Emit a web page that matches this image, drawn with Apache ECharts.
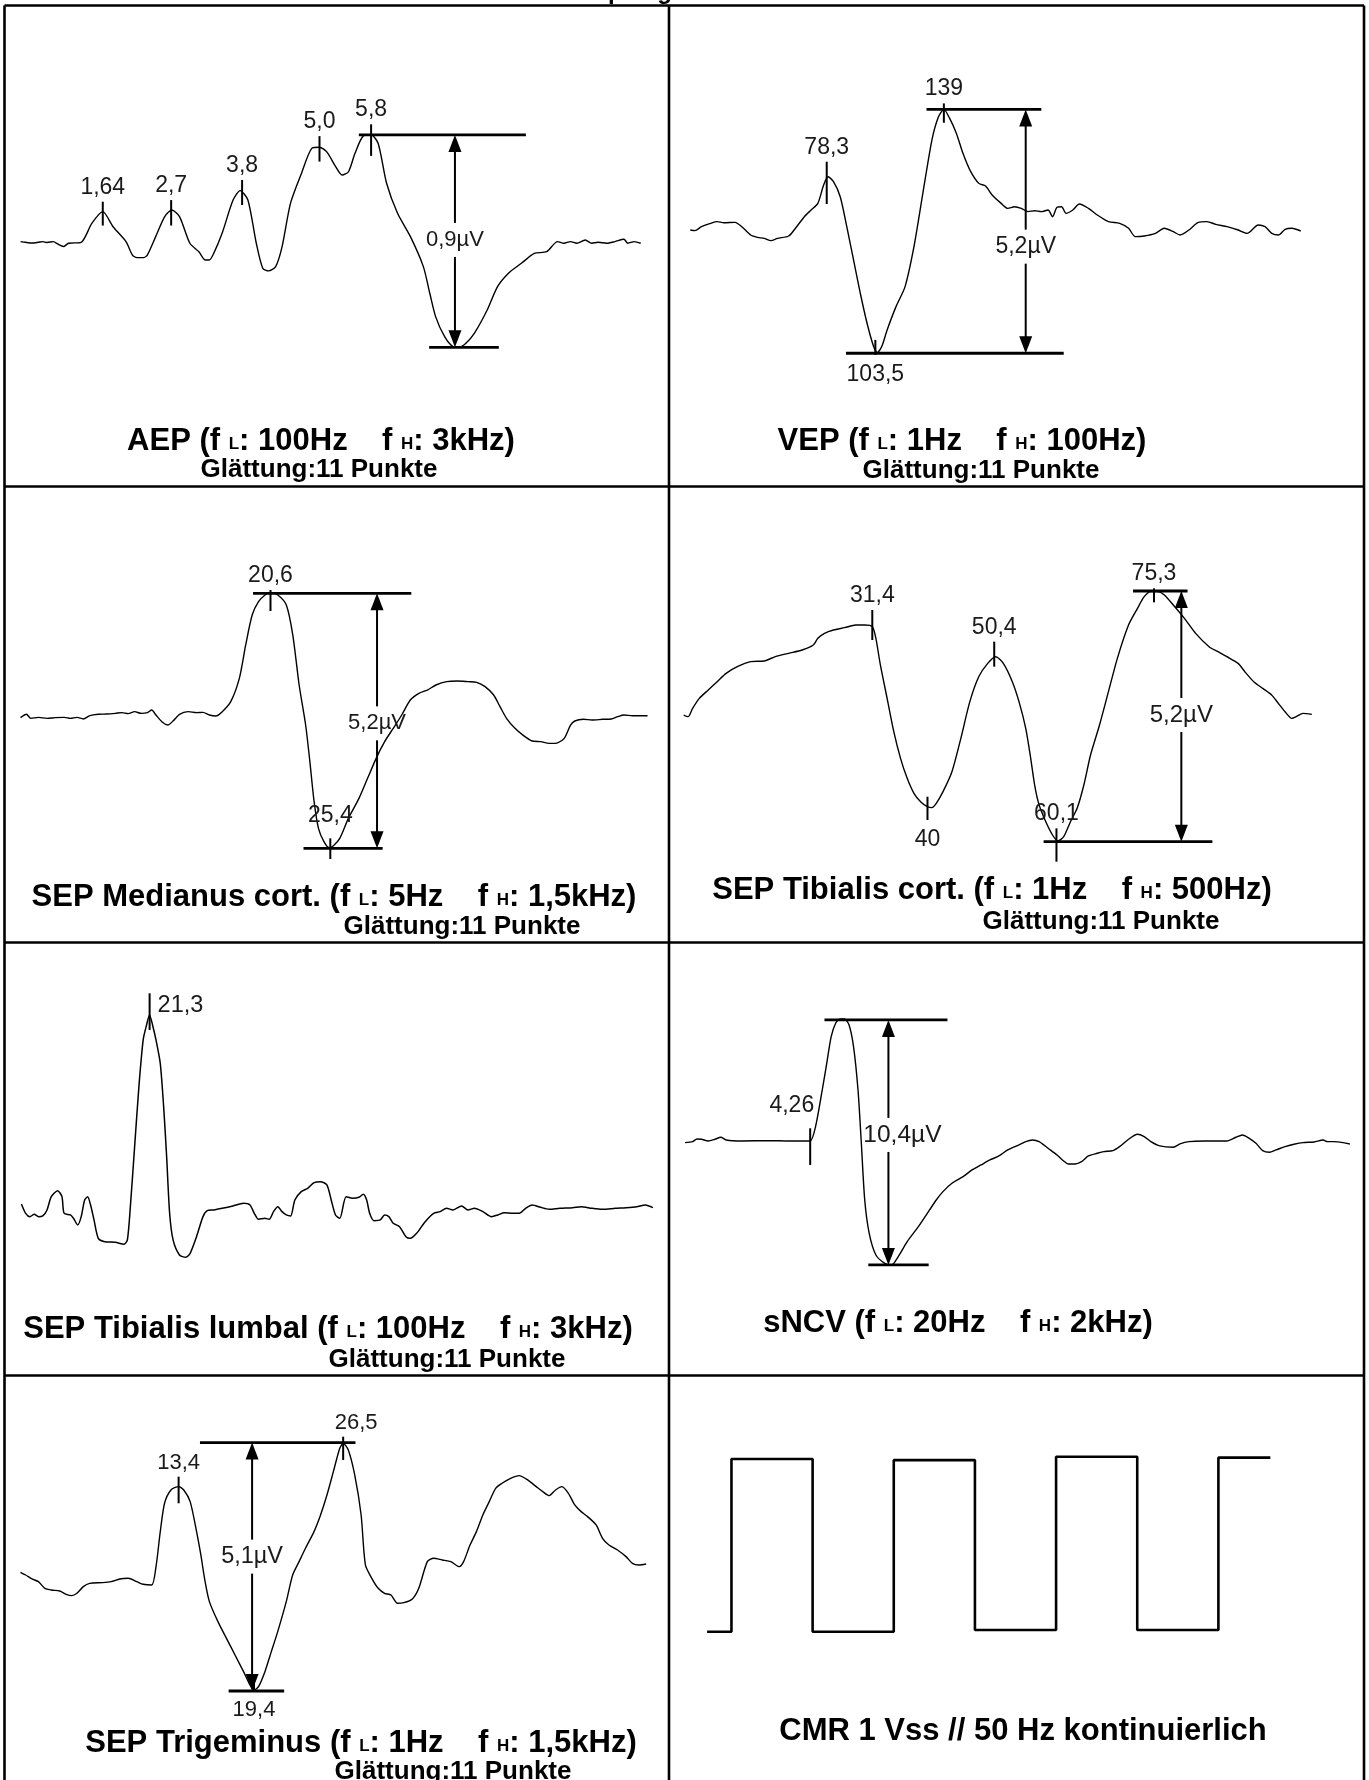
<!DOCTYPE html>
<html><head><meta charset="utf-8">
<script src="https://cdn.jsdelivr.net/npm/echarts@6/dist/echarts.min.js"></script>
<style>html,body{margin:0;padding:0;background:#fff}#c{width:1369px;height:1780px}</style>
</head><body><div id="c"></div>
<script>
// ================= DATA (time in ms, amplitude in µV) =================
const aepWave = [[0.365,0.003],[0.44,0],[0.54,-0.003],[0.64,0],[0.71,0.003],[0.775,-0.001],[0.875,0.003],[0.94,-0.007],[1.03,-0.018],[1.11,-0.004],[1.305,0],[1.47,0.08],[1.64,0.13],[1.80,0.066],[2.0,0.003],[2.10,-0.054],[2.17,-0.065],[2.27,-0.065],[2.33,-0.054],[2.46,0.024],[2.60,0.109],[2.71,0.137],[2.83,0.109],[2.99,-0.004],[3.13,-0.04],[3.23,-0.075],[3.29,-0.075],[3.36,-0.047],[3.49,0.038],[3.66,0.179],[3.77,0.219],[3.89,0.179],[4.02,-0.004],[4.12,-0.11],[4.21,-0.121],[4.32,-0.103],[4.42,-0.018],[4.55,0.165],[4.72,0.292],[4.88,0.398],[5.0,0.403],[5.11,0.384],[5.25,0.321],[5.35,0.285],[5.45,0.299],[5.55,0.377],[5.68,0.451],[5.80,0.455],[5.91,0.419],[6.04,0.25],[6.21,0.123],[6.41,0.024],[6.61,-0.103],[6.71,-0.216],[6.80,-0.315],[6.94,-0.4],[7.07,-0.442],[7.17,-0.445],[7.27,-0.428],[7.40,-0.386],[7.60,-0.287],[7.76,-0.188],[7.93,-0.131],[8.13,-0.089],[8.33,-0.047],[8.52,-0.04],[8.69,0.003],[8.79,-0.004],[8.89,0.003],[8.99,-0.004],[9.12,0.01],[9.22,-0.004],[9.32,0],[9.45,-0.004],[9.58,0.003],[9.72,0.013],[9.78,-0.004],[9.88,0.003],[9.98,-0.004]];
const aepPeaks = [[1.64,0.172,0.071],[2.7,0.179,0.071],[3.8,0.264,0.158],[5.0,0.45,0.342],[5.8,0.5,0.366]];
const aepPeakLabels = ['1,64','2,7','3,8','5,0','5,8'];
const aepAmp = {t:7.10, top:0.455, bottom:-0.445, topLine:[5.61,8.2], bottomLine:[6.70,7.78], labelV:0.01, text:'0,9µV'};

const vepWave = [[7.6,0],[9.96,-0.014],[13.4,0.071],[18.1,0.142],[21.5,0.178],[25.0,0.156],[30.8,0.163],[34.3,0.071],[38.9,-0.107],[42.4,-0.156],[45.9,-0.178],[49.4,-0.227],[52.8,-0.178],[58.6,-0.128],[62.1,0.036],[66.7,0.284],[70.2,0.426],[73.7,0.568],[76.7,0.959],[79.0,1.136],[81.8,1.03],[85.3,0.71],[88.7,0.071],[92.2,-0.639],[95.7,-1.349],[99.2,-1.989],[102.6,-2.486],[104.5,-2.614],[106.8,-2.486],[109.6,-2.131],[114.2,-1.634],[118.9,-1.207],[123.5,-0.355],[128.1,0.781],[132.8,1.918],[136.2,2.415],[139.0,2.571],[142.0,2.379],[145.5,2.06],[148.9,1.634],[152.5,1.278],[157.1,0.994],[160.6,0.9375],[164.0,0.746],[168.7,0.568],[172.1,0.462],[175.6,0.497],[179.1,0.462],[182.6,0.391],[186.1,0.412],[189.5,0.391],[193.0,0.426],[195.3,0.284],[197.6,0.483],[200.0,0.497],[202.3,0.355],[205.8,0.426],[209.2,0.554],[213.9,0.462],[218.5,0.32],[224.3,0.178],[230.1,0.142],[234.7,0.036],[238.2,-0.142],[242.8,-0.128],[248.6,-0.071],[253.2,0.036],[257.9,-0.036],[261.4,-0.107],[266.0,0],[270.6,0.156],[275.3,0.178],[279.9,0.121],[285.7,0.071],[291.5,0],[296.1,-0.071],[301.9,0.107],[305.4,0.071],[308.9,-0.071],[312.3,-0.107],[315.8,0.014],[319.3,0.036],[323.9,-0.021]];
const vepPeaks = [[78.3,1.456,0.554],[103.5,-2.344,-2.663],[139,2.699,2.287]];
const vepPeakLabels = ['78,3','103,5','139'];
const vepAmp = {t:181.4, top:2.571, bottom:-2.628, topLine:[130.0,189.5], bottomLine:[88.3,201.1], labelV:-0.355, text:'5,2µV'};

const medWave = [[0.54,-0.054],[1.02,0.014],[1.36,-0.068],[1.98,-0.048],[2.66,-0.068],[3.35,-0.054],[4.04,-0.048],[4.55,-0.068],[5.07,-0.048],[5.58,-0.081],[6.10,-0.014],[6.78,0.014],[7.47,0.02],[8.15,0.034],[8.67,0.048],[9.18,0.027],[9.70,0.068],[10.21,0.034],[10.73,0.048],[11.07,0.102],[11.41,0],[11.93,-0.149],[12.37,-0.204],[12.78,-0.122],[13.30,0.014],[13.98,0.068],[14.67,0.048],[15.18,0.054],[15.70,0],[16.21,-0.02],[16.73,0.068],[17.41,0.272],[18.10,0.747],[18.61,1.426],[19.13,2.037],[19.64,2.308],[20.16,2.444],[20.60,2.498],[21.19,2.444],[21.87,2.24],[22.39,1.629],[22.90,0.611],[23.42,-0.204],[23.76,-0.95],[24.10,-1.765],[24.45,-2.308],[24.89,-2.58],[25.30,-2.702],[25.65,-2.661],[26.16,-2.512],[26.85,-2.105],[27.70,-1.697],[28.39,-1.29],[29.08,-0.883],[29.76,-0.543],[30.45,-0.272],[31.13,0],[31.82,0.305],[32.51,0.441],[33.19,0.509],[33.88,0.611],[34.74,0.679],[35.59,0.692],[36.45,0.679],[37.14,0.665],[37.82,0.577],[38.51,0.407],[39.02,0.17],[39.54,-0.068],[40.22,-0.272],[40.91,-0.421],[41.60,-0.53],[42.28,-0.543],[42.97,-0.577],[43.48,-0.577],[44.17,-0.475],[44.68,-0.204],[45.02,-0.122],[45.71,-0.088],[46.40,-0.102],[47.26,-0.088],[47.94,-0.081],[48.46,-0.034],[48.97,0],[49.66,-0.014],[50.86,-0.014]];
const medPeaks = [[20.6,2.546,2.118],[25.4,-2.512,-2.933]];
const medPeakLabels = ['20,6','25,4'];
const medAmp = {t:29.15, top:2.478, bottom:-2.716, topLine:[19.2,31.9], bottomLine:[23.25,29.6], labelV:-0.17, text:'5,2µV'};

const tibWave = [[2.00,0.069],[2.70,0.035],[3.40,0.207],[4.44,0.415],[5.84,0.588],[7.23,0.761],[8.62,0.934],[10.36,1.072],[12.45,1.176],[14.55,1.19],[16.29,1.279],[18.38,1.349],[20.47,1.418],[22.21,1.521],[22.91,1.66],[23.95,1.763],[25.35,1.833],[27.09,1.881],[28.83,1.936],[30.22,1.936],[31.41,1.902],[31.96,1.66],[32.66,1.107],[33.71,0.415],[34.75,-0.277],[35.80,-0.83],[36.84,-1.245],[37.89,-1.556],[38.93,-1.729],[39.98,-1.833],[40.67,-1.853],[41.37,-1.763],[42.42,-1.521],[43.81,-1.107],[45.20,-0.415],[46.60,0.346],[47.99,0.864],[49.39,1.141],[50.64,1.279],[51.82,1.141],[53.22,0.761],[54.26,0.346],[55.31,-0.207],[56.01,-0.761],[56.70,-1.383],[57.40,-1.798],[58.44,-2.144],[59.49,-2.42],[60.32,-2.545],[61.23,-2.455],[62.28,-2.144],[63.32,-1.867],[64.37,-1.383],[65.41,-0.761],[66.81,-0.138],[68.20,0.553],[69.59,1.245],[71.33,1.936],[72.73,2.282],[73.77,2.524],[74.82,2.628],[75.86,2.628],[76.91,2.559],[78.30,2.351],[80.04,2.075],[81.79,1.763],[83.88,1.487],[85.27,1.383],[86.66,1.279],[88.41,1.141],[89.45,0.968],[90.84,0.761],[92.24,0.622],[93.63,0.484],[94.68,0.311],[95.72,0.138],[96.77,0],[97.47,0.035],[98.51,0.104],[99.90,0.083]];
const tibPeaks = [[31.4,2.248,1.625],[40,-1.625,-2.109],[50.4,1.591,1.072],[60.1,-2.282,-2.974],[75.3,2.697,2.407]];
const tibPeakLabels = ['31,4','40','50,4','60,1','75,3'];
const tibAmp = {t:79.56, top:2.642, bottom:-2.559, topLine:[72.03,80.53], bottomLine:[58.1,84.4], labelV:0.069, text:'5,2µV'};

const lumWave = [[1.19,0.087],[1.86,-0.1],[2.53,-0.167],[3.20,-0.12],[3.87,-0.167],[4.54,-0.153],[5.21,-0.033],[5.88,0.233],[6.88,0.353],[7.55,0.233],[7.89,-0.1],[8.89,-0.133],[9.36,-0.2],[10.03,-0.333],[10.57,-0.167],[11.11,0.167],[11.58,0.233],[12.04,0.067],[12.58,-0.233],[13.25,-0.6],[14.26,-0.667],[15.93,-0.68],[17.27,-0.72],[17.81,-0.633],[18.28,0.033],[18.95,1.233],[19.62,2.433],[20.29,3.367],[20.82,3.667],[21.29,3.867],[21.76,3.667],[22.30,3.367],[22.97,2.9],[23.50,2.033],[23.97,1.033],[24.44,-0.1],[24.98,-0.633],[25.98,-0.933],[26.99,-0.98],[27.66,-0.9],[28.66,-0.567],[29.67,-0.167],[30.34,-0.047],[31.35,-0.033],[32.69,0],[34.36,0.047],[36.04,0.1],[37.04,0.067],[37.71,-0.1],[38.38,-0.22],[39.39,-0.2],[40.06,-0.22],[40.73,-0.067],[41.40,0.033],[42.07,-0.067],[42.74,-0.133],[43.41,-0.153],[44.08,0.167],[45.08,0.333],[46.09,0.4],[47.10,0.513],[48.10,0.533],[49.10,0.467],[49.78,0.167],[50.45,-0.133],[51.12,-0.2],[52.12,0.233],[53.13,0.2],[54.13,0.22],[54.80,0.28],[55.34,0.167],[55.81,-0.1],[56.48,-0.247],[57.48,-0.233],[58.15,-0.133],[58.82,-0.167],[59.50,-0.3],[60.50,-0.367],[61.50,-0.567],[62.17,-0.6],[63.18,-0.5],[64.52,-0.267],[65.86,-0.1],[66.87,-0.067],[67.87,0],[68.88,-0.033],[70.22,0.047],[71.22,-0.033],[72.23,0],[73.57,-0.067],[74.91,-0.167],[75.91,-0.133],[76.92,-0.087],[78.26,-0.1],[79.27,-0.1],[80.27,0],[81.28,0.067],[82.62,0.02],[83.96,-0.02],[85.63,0],[87.64,0.013],[88.98,0.033],[90.66,0],[92.33,-0.02],[94.34,0],[96.02,0.013],[97.70,0.033],[99.04,0.067],[100.24,0.013]];
const lumPeaks = [[21.3,4.3,3.567]];
const lumPeakLabels = ['21,3'];

const ncvWave = [[0.434,-0.071],[0.666,-0.028],[0.803,0.085],[0.939,0.071],[1.144,0],[1.349,0.071],[1.527,0.156],[1.691,0.042],[2.169,0],[2.989,0.014],[3.604,0],[4.014,0],[4.26,0],[4.424,0.608],[4.629,2.165],[4.766,3.297],[4.902,4.429],[5.039,4.995],[5.175,5.179],[5.312,5.179],[5.449,4.924],[5.585,4.004],[5.722,2.165],[5.818,0.042],[5.927,-2.505],[6.064,-3.92],[6.269,-4.839],[6.542,-5.193],[6.747,-5.264],[6.952,-4.91],[7.225,-4.273],[7.567,-3.637],[7.908,-2.929],[8.113,-2.505],[8.319,-2.151],[8.592,-1.797],[8.934,-1.514],[9.207,-1.231],[9.48,-1.019],[9.753,-0.807],[10.027,-0.637],[10.3,-0.382],[10.642,-0.17],[10.847,-0.028],[11.052,0.042],[11.257,-0.028],[11.53,-0.311],[11.803,-0.594],[12.008,-0.849],[12.145,-0.976],[12.35,-0.976],[12.555,-0.877],[12.76,-0.637],[13.033,-0.524],[13.238,-0.453],[13.511,-0.41],[13.716,-0.241],[13.99,0.071],[14.263,0.283],[14.468,0.184],[14.673,-0.028],[14.946,-0.212],[15.356,-0.269],[15.561,-0.127],[15.834,-0.028],[16.313,0],[16.996,0],[17.27,0.156],[17.475,0.255],[17.68,0.113],[17.885,-0.099],[18.09,-0.41],[18.294,-0.481],[18.499,-0.382],[18.773,-0.241],[19.046,-0.142],[19.319,-0.071],[19.66,-0.042],[19.934,0.042],[20.07,-0.028],[20.275,-0.028],[20.549,-0.071],[20.754,-0.127]];
const ncvPeaks = [[4.26,0.538,-1.019]];
const ncvPeakLabels = ['4,26'];
const ncvAmp = {t:6.651, top:5.137, bottom:-5.264, topLine:[4.697,8.455], bottomLine:[6.036,7.881], labelV:0.255, text:'10,4µV'};

const triWave = [[0.81,0.26],[1.22,0.205],[1.73,0.123],[2.24,0.068],[2.75,-0.068],[3.26,-0.103],[3.94,-0.123],[4.45,-0.192],[4.90,-0.219],[5.30,-0.171],[5.81,-0.034],[6.32,0.034],[7.34,0.048],[8.03,0.068],[8.71,0.123],[9.39,0.137],[10.07,0.068],[10.58,0.014],[11.26,0],[11.60,0.376],[11.94,1.095],[12.28,1.677],[12.79,1.951],[13.40,2.019],[13.81,1.951],[14.32,1.711],[14.83,1.095],[15.17,0.616],[15.51,0.068],[15.85,-0.342],[16.53,-0.753],[17.21,-1.095],[17.89,-1.437],[18.57,-1.78],[19.08,-2.053],[19.42,-2.156],[19.76,-2.088],[20.27,-1.78],[20.78,-1.369],[21.29,-0.958],[21.97,-0.342],[22.48,0.205],[22.99,0.479],[23.50,0.753],[24.18,1.095],[24.70,1.437],[25.21,1.848],[25.72,2.327],[26.23,2.806],[26.50,2.909],[26.91,2.772],[27.42,2.259],[27.93,1.437],[28.27,0.411],[28.78,0.137],[29.29,-0.068],[29.80,-0.171],[30.31,-0.205],[30.82,-0.376],[31.33,-0.363],[32.01,-0.287],[32.52,-0.068],[33.20,0.479],[33.71,0.548],[34.39,0.513],[35.07,0.479],[35.75,0.376],[36.09,0.479],[36.60,0.821],[37.11,1.095],[37.62,1.437],[38.13,1.711],[38.64,1.985],[39.15,2.088],[39.83,2.19],[40.51,2.245],[41.19,2.156],[41.87,2.019],[42.39,1.916],[42.90,1.834],[43.41,1.951],[43.92,2.019],[44.43,1.882],[44.94,1.643],[45.45,1.506],[45.96,1.403],[46.64,1.232],[47.15,0.958],[47.66,0.821],[48.34,0.719],[49.02,0.582],[49.53,0.445],[50.04,0.411],[50.62,0.431]];
const triPeaks = [[13.4,2.224,1.677],[19.4,-1.95,-2.18],[26.5,3.045,2.567]];
const triPeakLabels = ['13,4','19,4','26,5'];
const triAmp = {t:19.25, top:2.923, bottom:-2.177, topLine:[15.10,27.48], bottomLine:[17.38,21.80], labelV:0.582, text:'5,1µV'};

// CMR square wave: [edge time in ms, level in V] (50 Hz, 1 Vss)
const cmrWave = [[-3,-0.5],[0,0.496],[10,-0.5],[20,0.49],[30,-0.49],[40,0.509],[50,-0.49],[60,0.504],[66.4,0.504]];

const panelNames = ['AEP','VEP','SEP Medianus cort.','SEP Tibialis cort.','SEP Tibialis lumbal','sNCV','SEP Trigeminus'];
const fLow = ['100Hz','1Hz','5Hz','1Hz','100Hz','20Hz','1Hz'];
const fHigh = ['3kHz','100Hz','1,5kHz','500Hz','3kHz','2kHz','1,5kHz'];
const smoothingText = 'Glättung:11 Punkte';
const cmrText = 'CMR 1 Vss // 50 Hz kontinuierlich';
const headerText = 'Impulsgenerator';

// ================= LAYOUT / STYLE =================
const FONT = '"Liberation Sans", Arial, Helvetica, sans-serif';
const layout = [
 {left:3.45, top:100.7, width:645, height:283.2, xMin:0.1, xMax:10.1, yMin:-0.6, yMax:0.6},
 {left:675.6, top:89.3, width:636.9, height:281.4, xMin:0, xMax:330, yMin:-3, yMax:3},
 {left:13.8, top:567.7, width:635.5, height:294.6, xMin:0, xMax:51, yMin:-3, yMax:3},
 {left:670.8, top:564.1, width:641.7, height:308.5, xMin:0, xMax:100, yMin:-3.2, yMax:3.2},
 {left:13.8, top:958.3, width:644, height:350, xMin:0, xMax:101, yMin:-2, yMax:5},
 {left:670.8, top:999.6, width:687.1, height:282.7, xMin:0, xMax:21, yMin:-6, yMax:6},
 {left:10.3, top:1414.5, width:640.6, height:316.6, xMin:0, xMax:51, yMin:-3, yMax:3.5},
 {left:699.0, top:1441, width:576.2, height:208.1, xMin:-4, xMax:67, yMin:-0.6, yMax:0.6}
];
const titlePos = [[321,439],[962,439],[334,895],[992,888],[328,1327],[958,1321],[361,1741]];
const subPos = [[319,470],[981,471],[462,927],[1101,922],[447,1360],null,[453,1772]];
const cmrPos = [1023,1731];
const tickFont = [23, 23, 23, 23, 23.5, 23, 22];
const ampFont = [22, 23, 22, 24, 0, 24.5, 23.5];

function waveSeries(idx, data, width, step) {
  return {type:'line', xAxisIndex:idx, yAxisIndex:idx, data:data, showSymbol:false, symbol:'none',
    smooth: step ? false : 0.25, step: step || false, clip:false, silent:true,
    lineStyle:{color:'#000', width:width}, z:2};
}

function tickSeries(idx, ticks, labels, placements) {
  const fs = tickFont[idx];
  return {type:'custom', xAxisIndex:idx, yAxisIndex:idx, coordinateSystem:'cartesian2d', clip:false, silent:true, z:4,
    data:ticks, encode:{x:0, y:[1,2]},
    renderItem:function(params, api){
      const i = params.dataIndex;
      const t = api.value(0);
      const p1 = api.coord([t, api.value(1)]), p2 = api.coord([t, api.value(2)]);
      const x = p1[0], yT = Math.min(p1[1], p2[1]), yB = Math.max(p1[1], p2[1]);
      const pl = placements[i] || 'top';
      let tx = x, ty = yT - 3, al = 'center', va = 'bottom';
      if (pl === 'bottom') { ty = yB + 8; va = 'top'; }
      else if (pl === 'topfar') { ty = yT - 11; }
      else if (pl === 'topright') { tx = x + 13; }
      else if (pl === 'right') { tx = x + 8; ty = yT; al = 'left'; va = 'top'; }
      else if (pl === 'topleft') { tx = x + 4; ty = yT - 11; al = 'right'; va = 'bottom'; }
      return {type:'group', children:[
        {type:'line', shape:{x1:x, y1:yT, x2:x, y2:yB}, style:{stroke:'#000', lineWidth:2}},
        {type:'text', x:tx, y:ty, style:{text:labels[i], font:fs + 'px ' + FONT, fill:'#1a1a1a', align:al, verticalAlign:va, textAlign:al, textVerticalAlign:va}}
      ]};
    }};
}

function ampSeries(idx, m, labelDx) {
  const fs = ampFont[idx];
  return {type:'custom', xAxisIndex:idx, yAxisIndex:idx, coordinateSystem:'cartesian2d', clip:false, silent:true, z:5,
    data:[[m.t, m.top, m.bottom, m.labelV]], encode:{x:0, y:[1,2]},
    renderItem:function(params, api){
      const t = api.value(0), top = api.value(1), bot = api.value(2), lv = api.value(3);
      const a = api.coord([t, top]), b = api.coord([t, bot]);
      const l1 = api.coord([m.topLine[0], top]), l2 = api.coord([m.topLine[1], top]);
      const b1 = api.coord([m.bottomLine[0], bot]), b2 = api.coord([m.bottomLine[1], bot]);
      const ly = api.coord([t, lv])[1];
      const x = a[0], gap = 17, head = 17, hw = 6.5;
      const hs = {stroke:'#000', lineWidth:2.8};
      const ss = {stroke:'#000', lineWidth:2};
      return {type:'group', children:[
        {type:'line', shape:{x1:l1[0], y1:l1[1], x2:l2[0], y2:l2[1]}, style:hs},
        {type:'line', shape:{x1:b1[0], y1:b1[1], x2:b2[0], y2:b2[1]}, style:hs},
        {type:'line', shape:{x1:x, y1:a[1] + head - 2, x2:x, y2:ly - gap}, style:ss},
        {type:'line', shape:{x1:x, y1:ly + gap, x2:x, y2:b[1] - head + 2}, style:ss},
        {type:'polygon', shape:{points:[[x, a[1]], [x - hw, a[1] + head], [x + hw, a[1] + head]]}, style:{fill:'#000'}},
        {type:'polygon', shape:{points:[[x, b[1]], [x - hw, b[1] - head], [x + hw, b[1] - head]]}, style:{fill:'#000'}},
        {type:'text', x:x + (labelDx || 0), y:ly, style:{text:m.text, font:fs + 'px ' + FONT, fill:'#1a1a1a', align:'center', verticalAlign:'middle', textAlign:'center', textVerticalAlign:'middle'}}
      ]};
    }};
}

const series = [
  waveSeries(0, aepWave, 1.4), tickSeries(0, aepPeaks, aepPeakLabels, ['top','top','top','top','top']), ampSeries(0, aepAmp, 0),
  waveSeries(1, vepWave, 1.4), tickSeries(1, vepPeaks, vepPeakLabels, ['top','bottom','top']), ampSeries(1, vepAmp, 0),
  waveSeries(2, medWave, 1.4), tickSeries(2, medPeaks, medPeakLabels, ['top','topfar']), ampSeries(2, medAmp, 0),
  waveSeries(3, tibWave, 1.4), tickSeries(3, tibPeaks, tibPeakLabels, ['top','bottom','top','top','top']), ampSeries(3, tibAmp, 0),
  waveSeries(4, lumWave, 1.5), tickSeries(4, lumPeaks, lumPeakLabels, ['right']),
  waveSeries(5, ncvWave, 1.4), tickSeries(5, ncvPeaks, ncvPeakLabels, ['topleft']), ampSeries(5, ncvAmp, 14),
  waveSeries(6, triWave, 1.4), tickSeries(6, triPeaks, triPeakLabels, ['top','bottom','topright']), ampSeries(6, triAmp, 0),
  waveSeries(7, cmrWave, 2.6, 'end')
];

function richTitle(name, fl, fh) {
  return '{b|' + name + ' (f }{s|L}{b|: ' + fl + '    f }{s|H}{b|: ' + fh + ')}';
}
const rich = {
  b: {font:'bold 31px ' + FONT, fill:'#000', color:'#000', lineHeight:36, verticalAlign:'bottom'},
  s: {font:'bold 17px ' + FONT, fill:'#000', color:'#000', lineHeight:36, height:25, verticalAlign:'bottom'}
};

const graphics = [];
const lw = 2.6;
const frameLines = [
  [4.5, 5.5, 1364, 5.5], [4.5, 5.5, 4.5, 1780], [1364, 5.5, 1364, 1780], [669, 5.5, 669, 1780],
  [4.5, 486.5, 1364, 486.5], [4.5, 942.5, 1364, 942.5], [4.5, 1375.5, 1364, 1375.5]
];
frameLines.forEach(function(l){
  graphics.push({type:'line', shape:{x1:l[0], y1:l[1], x2:l[2], y2:l[3]}, style:{stroke:'#000', lineWidth:lw}, z:10});
});
graphics.push({type:'text', x:580, y:4, style:{text:headerText, font:'bold 24px ' + FONT, fill:'#000', align:'left', verticalAlign:'bottom', textAlign:'left', textVerticalAlign:'bottom'}, z:9});
panelNames.forEach(function(n, i){
  graphics.push({type:'text', x:titlePos[i][0], y:titlePos[i][1], z:9,
    style:{text:richTitle(n, fLow[i], fHigh[i]), rich:rich, font:'bold 31px ' + FONT, fill:'#000', align:'center', verticalAlign:'middle', textAlign:'center', textVerticalAlign:'middle'}});
  if (subPos[i]) {
    graphics.push({type:'text', x:subPos[i][0], y:subPos[i][1], z:9,
      style:{text:smoothingText, font:'bold 26px ' + FONT, fill:'#000', align:'center', verticalAlign:'middle', textAlign:'center', textVerticalAlign:'middle'}});
  }
});
graphics.push({type:'text', x:cmrPos[0], y:cmrPos[1], z:9,
  style:{text:cmrText, font:'bold 31px ' + FONT, fill:'#000', align:'center', verticalAlign:'middle', textAlign:'center', textVerticalAlign:'middle'}});

const chart = echarts.init(document.getElementById('c'), null, {renderer:'canvas', width:1369, height:1780});
chart.setOption({
  animation:false,
  backgroundColor:'#fff',
  grid: layout.map(function(g){ return {left:g.left, top:g.top, width:g.width, height:g.height, containLabel:false}; }),
  xAxis: layout.map(function(g, i){ return {type:'value', gridIndex:i, min:g.xMin, max:g.xMax, show:false}; }),
  yAxis: layout.map(function(g, i){ return {type:'value', gridIndex:i, min:g.yMin, max:g.yMax, show:false}; }),
  series: series,
  graphic: {elements: graphics}
});
</script></body></html>
